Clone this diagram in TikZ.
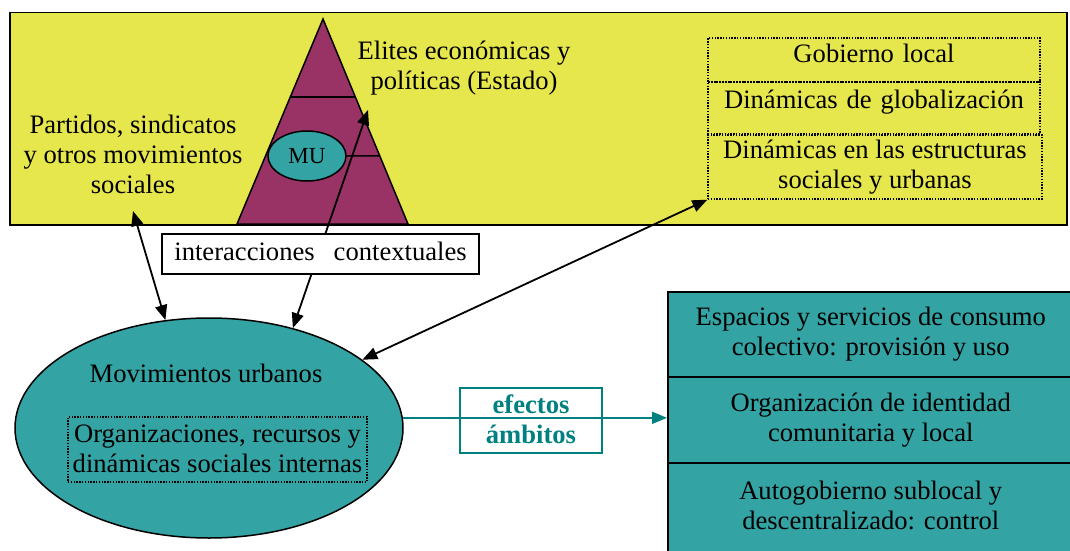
\documentclass[tikz,border=0pt]{standalone}
\usepackage{fontspec}
\setmainfont{Liberation Serif}
\usetikzlibrary{arrows.meta,shapes.geometric,calc}
\definecolor{ylw}{HTML}{E6E64D}
\definecolor{plum}{HTML}{993366}
\definecolor{tealf}{HTML}{33A3A3}
\definecolor{tealdk}{HTML}{008080}
\newcommand{\mystrut}{\rule[-6pt]{0pt}{24pt}}
\newcommand{\lowstrut}{\rule[-2pt]{0pt}{28pt}}
\begin{document}
\begin{tikzpicture}[x=1pt,y=-1pt,
  lw/.style={line width=1.5pt},
  bigfont/.style={font=\fontsize{26.6}{30}\selectfont},
  txt/.style={bigfont, align=center, inner sep=0pt,
     execute at begin node=\mystrut, execute at end node=\mystrut},
  lowtxt/.style={bigfont, align=center, inner sep=0pt,
     execute at begin node=\lowstrut, execute at end node=\lowstrut},
  dotbox/.style={draw, line width=1.4pt, dash pattern=on 1.4pt off 1.4pt, inner sep=0pt},
  solidbox/.style={draw, lw, inner sep=0pt},
  dbl/.style={line width=1.8pt, {Triangle[length=15pt,width=12pt]}-{Triangle[length=15pt,width=12pt]}},
  sgl/.style={line width=1.6pt, -{Triangle[length=15pt,width=12pt]}},
]
\useasboundingbox (0,0) rectangle (1070,551);
\clip (0,0) rectangle (1070,551);

% context box
\node[solidbox, fill=ylw, minimum width=1057pt, minimum height=212pt, anchor=north west] (ctx) at (9,12) {};

% pyramid
\coordinate (apex) at (323,19);
\coordinate (bl) at (237,224);
\coordinate (br) at (408,224);
\draw[lw, fill=plum] (apex) -- (bl) -- (br) -- cycle;
\draw[lw] ($(apex)!0.3805!(bl)$) -- ($(apex)!0.3805!(br)$);
\node[ellipse, draw, lw, fill=tealf, minimum width=78pt, minimum height=50pt, inner sep=0pt,
      font=\fontsize{23}{26}\selectfont] (mu) at (307,156) {MU};
\draw[lw] (mu.east) -- ($(apex)!0.668!(br)$);

% texts in context box
\node[txt] (partidos) at (133,157) {Partidos, sindicatos\\y otros movimientos\\sociales};
\node[txt] (elites) at (464,68) {Elites económicas y\\políticas (Estado)};
\node[dotbox, bigfont, align=center, text width=332pt, text height=25pt, text depth=19pt] (g1) at (874,60) {Gobierno local};
\node[dotbox, bigfont, align=center, text width=332pt, text height=26pt, text depth=26pt] (g2) at (874,108) {Dinámicas de globalización};
\node[dotbox, txt, minimum width=334pt, minimum height=64pt] (g3) at (875,167) {Dinámicas en las estructuras\\sociales y urbanas};

% urban movements
\node[ellipse, draw, lw, fill=tealf, minimum width=388pt, minimum height=220pt, inner sep=0pt] (mov) at (209,428) {};
\node[txt] (movt) at (206,376) {Movimientos urbanos};
\node[dotbox, lowtxt, minimum width=299pt, minimum height=65pt] (org) at (217.5,449.5) {Organizaciones, recursos y\\dinámicas sociales internas};

% effect boxes
\node[solidbox, fill=tealf, txt, minimum width=406pt, minimum height=85pt, anchor=north west] (t1) at (667,291) {Espacios y servicios de consumo\\colectivo: provisión y uso};
\node[solidbox, fill=tealf, txt, minimum width=406pt, minimum height=86pt, anchor=north west] (t2) at (667,376) {Organización de identidad\\comunitaria y local};
\node[solidbox, fill=tealf, txt, minimum width=406pt, minimum height=91pt, anchor=north west] (t3) at (667,462) {Autogobierno sublocal y\\descentralizado: control};

% connectors
\coordinate (partip) at (133,211);
\coordinate (elitip) at (368,110);
\draw[dbl] (partip) -- (mov.112.5);
\draw[dbl] (elitip) -- (mov.50);
\draw[dbl] (g3.south west) -- (mov.24.6);
\node[solidbox, fill=white, txt, minimum width=317pt, minimum height=40pt] (inter) at (320.5,254) {interacciones\hspace{19pt}contextuales};

\draw[sgl, tealdk] (mov.3) -- (mov.3 -| t2.west);
\node[draw=tealdk, line width=1.3pt, lowtxt, font={\fontsize{26.6}{30}\selectfont\bfseries}, text=tealdk,
      minimum width=142pt, minimum height=65pt] (efx) at (531,420.5) {efectos\\ámbitos};
\end{tikzpicture}
\end{document}
